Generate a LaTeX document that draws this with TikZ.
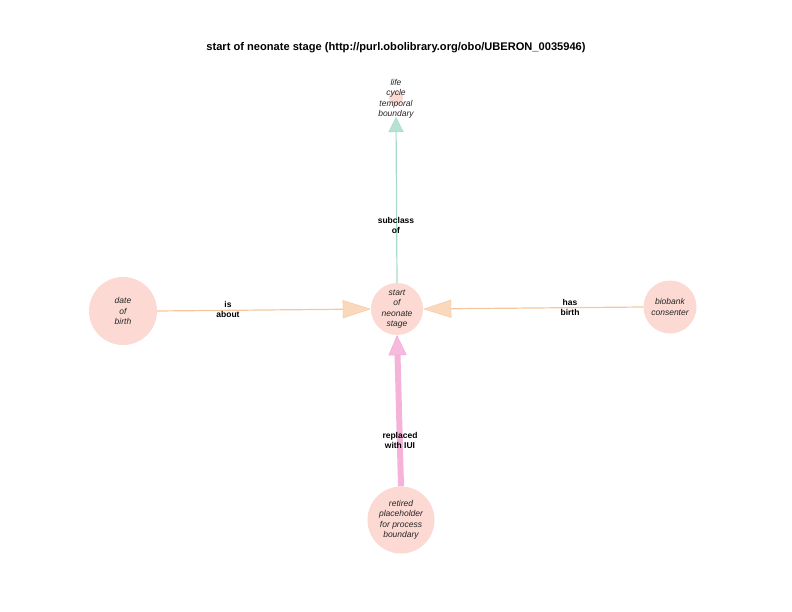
\documentclass[tikz,border=0pt]{standalone}
\usepackage{fontspec}
\setmainfont{Liberation Sans}
\usetikzlibrary{arrows.meta}
\definecolor{nodefill}{HTML}{FCD9D3}
\definecolor{greenedge}{HTML}{A6DCC6}
\definecolor{orangeedge}{HTML}{F6C79E}
\definecolor{orangetip}{HTML}{F5B886}
\definecolor{pinkedge}{HTML}{F5B3D9}
\definecolor{pinktip}{HTML}{F08CC8}
\definecolor{greentip}{HTML}{9ED8C0}
\begin{document}
\begin{tikzpicture}[x=1pt,y=-1pt,
  ent/.style={circle,fill=nodefill,inner sep=0pt,minimum size=#1,
    font=\fontsize{8.5}{10.5}\selectfont\itshape,align=center,text=black!85},
  elabel/.style={font=\fontsize{8.5}{10}\selectfont\bfseries,align=center,text=black},
  gline/.style={draw=greenedge,line width=1.2pt,
    -{Triangle[length=15pt,width=15pt,fill=greentip!75,color=greentip,line width=0.3pt]}},
  oline/.style={draw=orangeedge,line width=1.2pt,
    -{Triangle[length=28pt,width=18pt,fill=orangetip!55,color=orangetip!80,line width=0.4pt]}},
  pline/.style={draw=pinkedge,line width=6pt,
    -{Triangle[length=20pt,width=18pt,fill=pinktip!60,color=pinktip!80,line width=0.4pt]}}
]
\useasboundingbox (0,0) rectangle (792,612);
\node[font=\fontsize{11.1}{13}\selectfont\bfseries] (title) at (396,47.5)
  {start of neonate stage (http://purl.obolibrary.org/obo/UBERON\_0035946)};

\node[ent=14pt] (lc) at (396,98) {};
\node[font=\fontsize{8.5}{10.5}\selectfont\itshape,align=center,text=black!85] (lct) at (396,99)
  {life\\cycle\\temporal\\boundary};
\node[ent=52pt] (sn) at (397,309) {start\\of\\neonate\\stage};
\node[ent=68pt] (db) at (123,311) {date\\of\\birth};
\node[ent=53pt] (bc) at (670,307) {biobank\\consenter};
\node[ent=67pt] (rp) at (401,520) {retired\\placeholder\\for process\\boundary};

\coordinate (lctip) at (396,117);
\draw[gline] (sn.north) -- (lctip);
\draw[oline] (db.east) -- (sn.west);
\draw[oline] (bc.west) -- (sn.east);
\draw[pline] (rp.north) -- (sn.south);

\node[elabel] (l1) at (396,225) {subclass\\of};
\node[elabel] (l2) at (228,309) {is\\about};
\node[elabel] (l3) at (570,307) {has\\birth};
\node[elabel] (l4) at (400,440) {replaced\\with IUI};
\end{tikzpicture}
\end{document}
